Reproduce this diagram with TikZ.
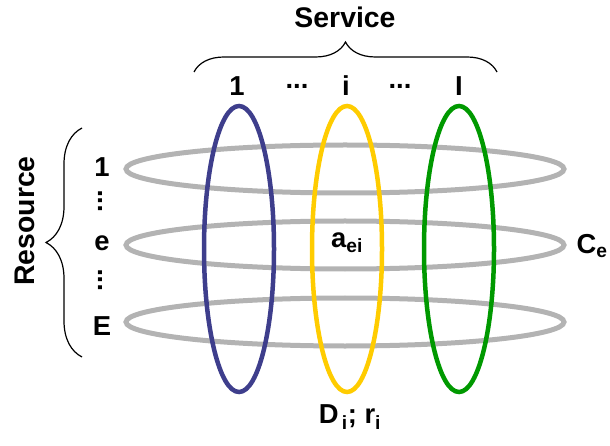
\documentclass[tikz,border=0pt]{standalone}
\usepackage{fontspec}
\setmainfont{Liberation Sans}
\usetikzlibrary{decorations.pathreplacing,shapes.geometric}
\definecolor{ringgray}{RGB}{179,179,179}
\definecolor{svcblue}{RGB}{62,62,140}
\definecolor{svcyellow}{RGB}{255,204,0}
\definecolor{svcgreen}{RGB}{0,153,0}
\begin{document}
\begin{tikzpicture}[x=1bp,y=-1bp,
  lbl/.style={font=\bfseries\fontsize{27.5}{32}\selectfont, inner sep=0pt},
  big/.style={font=\bfseries\fontsize{28.5}{33}\selectfont, inner sep=0pt},
  resring/.style={draw=ringgray, line width=5bp, ellipse, inner sep=0pt,
                  minimum width=438bp, minimum height=48bp},
  svcring/.style={draw=#1, line width=4.5bp, ellipse, inner sep=0pt,
                  minimum width=70bp, minimum height=286bp},
  bracestyle/.style={draw, line width=1.2bp, decorate}]
\useasboundingbox (0,0) rectangle (610,446);

% resource rings (one per resource row)
\node[resring] (ring1) at (345,169) {};
\node[resring] (ringe) at (345,245) {};
\node[resring] (ringE) at (345,322) {};

% service rings (one per service column)
\node[svcring=svcblue]   (svc1) at (239,249) {};
\node[svcring=svcyellow] (svci) at (347,249) {};
\node[svcring=svcgreen]  (svcI) at (459,249) {};

% service header
\node[big] (service) at (345,17) {Service};
\coordinate (sbl) at (194,72);
\coordinate (sbr) at (497,72);
\draw[bracestyle, decoration={brace, amplitude=30bp}] (sbl) -- (sbr);
\node[lbl] (s1)  at (237,86) {1};
\node[lbl] (sd1) at (297,86) {...};
\node[lbl] (si)  at (346,86) {i};
\node[lbl] (sd2) at (400,86) {...};
\node[lbl] (sI)  at (459,86) {I};

% resource header
\node[big, rotate=90] (resource) at (25,221) {Resource};
\coordinate (rbt) at (82,128);
\coordinate (rbb) at (82,357);
\draw[bracestyle, decoration={brace, amplitude=36bp}] (rbb) -- (rbt);
\node[lbl] (r1)  at (102,167) {1};
\node[lbl, rotate=90] (rd1) at (100,201) {...};
\node[lbl] (re)  at (102,243) {e};
\node[lbl, rotate=90] (rd2) at (100,280) {...};
\node[lbl] (rE)  at (102,326) {E};

% cell, capacity and demand labels
\node[lbl] (aei) at (347,243) {a\textsubscript{ei}};
\node[lbl] (ce)  at (592,246) {C\textsubscript{e}};
\node[lbl] (dr)  at (350,417) {D\textsubscript{\,i}; r\textsubscript{i}};
\end{tikzpicture}
\end{document}
